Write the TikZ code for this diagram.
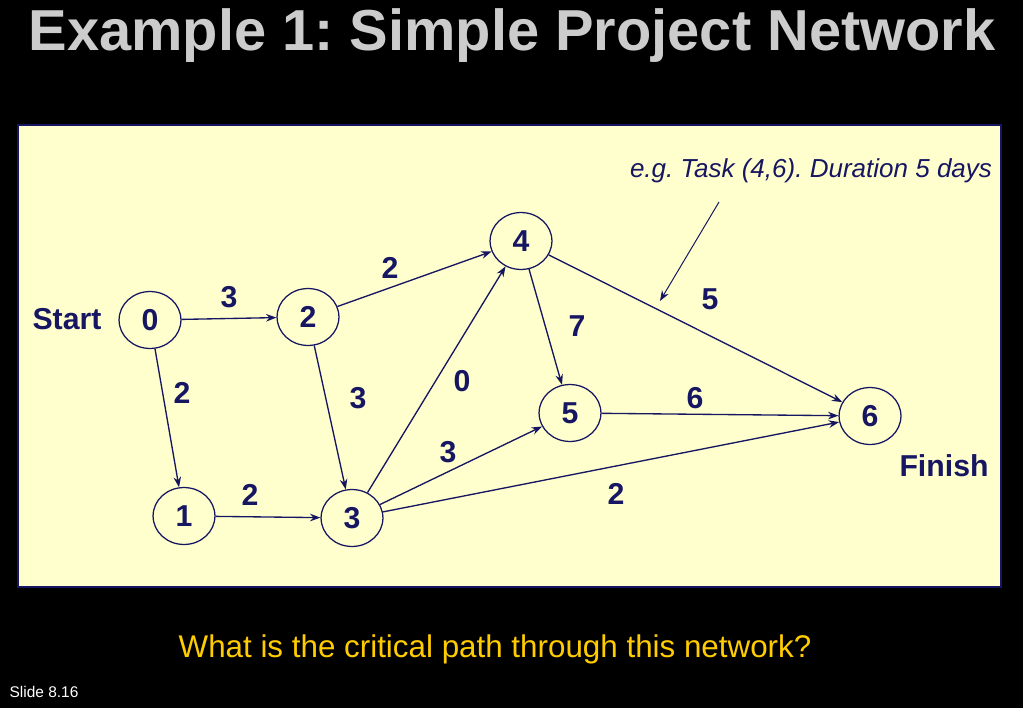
\documentclass[tikz,border=0pt]{standalone}
\usepackage{fontspec}
\setmainfont{Liberation Sans}
\usepackage{tikz}
\usetikzlibrary{arrows.meta,shapes.geometric}
\frenchspacing

\definecolor{navy}{RGB}{22,22,98}
\definecolor{paleyellow}{RGB}{255,255,206}
\definecolor{titlegray}{RGB}{204,204,204}
\definecolor{gold}{RGB}{255,204,0}

\tikzset{
  event/.style={ellipse,draw=navy,line width=0.9pt,minimum width=44pt,minimum height=40.5pt,
    inner sep=0pt,text=navy,font=\fontsize{21.5}{24}\selectfont\bfseries},
  dur/.style={text=navy,font=\fontsize{21.5}{24}\selectfont\bfseries},
  task/.style={draw=navy,line width=0.95pt,-{Stealth[length=2.6mm,width=1.9mm]}}
}

\begin{document}
\begin{tikzpicture}[x=0.025cm,y=-0.025cm]
 \fill[black] (0,0) rectangle (1023,708);
 \useasboundingbox (0,0) rectangle (1023,708);
 \draw (512,36) node[text=titlegray,font=\fontsize{41.1}{48}\selectfont\bfseries] (title) {Example 1: Simple Project Network};
 \draw[draw=navy,fill=paleyellow,line width=1.2pt] (18,125) rectangle (1001,587);

  \draw (150,320) node[event] (n0) {0};
  \draw (308,317) node[event] (n2) {2};
  \draw (521,241) node[event] (n4) {4};
  \draw (184,516) node[event] (n1) {1};
  \draw (352,518) node[event] (n3) {3};
  \draw (570,413) node[event] (n5) {5};
  \draw (870,416) node[event] (n6) {6};

  \draw (67,319) node[dur] (start) {Start};
  \draw (944,466) node[dur] (finish) {Finish};

  \draw (229,297) node[dur] (d02) {3};
  \draw (390,268) node[dur] (d24) {2};
  \draw (182,393) node[dur] (d01) {2};
  \draw (358,398) node[dur] (d23) {3};
  \draw (462,381) node[dur] (d34) {0};
  \draw (577,326) node[dur] (d45) {7};
  \draw (710,299) node[dur] (d46) {5};
  \draw (695,398) node[dur] (d56) {6};
  \draw (448,452) node[dur] (d35) {3};
  \draw (250,495) node[dur] (d13) {2};
  \draw (616,494) node[dur] (d36) {2};

     \path[task] (n0) edge (n2);
     \path[task] (n0) edge (n1);
     \path[task] (n2) edge (n4);
     \path[task] (n2) edge (n3);
     \path[task] (n1) edge (n3);
     \path[task] (n3) edge (n4);
     \path[task] (n3) edge (n5);
     \path[task] (n3) edge (n6);
     \path[task] (n4) edge (n5);
     \path[task] (n4) edge (n6);
     \path[task] (n5) edge (n6);

  \draw (811,171) node[text=navy,font=\fontsize{18.5}{22}\selectfont\itshape] (note) {e.g. Task (4,6). Duration 5 days};
  \coordinate (notetail) at (719,202);
  \coordinate (notehead) at (660,301);
  \draw[task,line width=0.7pt] (notetail) -- (notehead);

  \draw (495,649) node[text=gold,font=\fontsize{22.3}{26}\selectfont] (question) {What is the critical path through this network?};
  \draw (44,692) node[text=white,font=\fontsize{11}{13}\selectfont] (slide) {Slide 8.16};
\end{tikzpicture}
\end{document}
